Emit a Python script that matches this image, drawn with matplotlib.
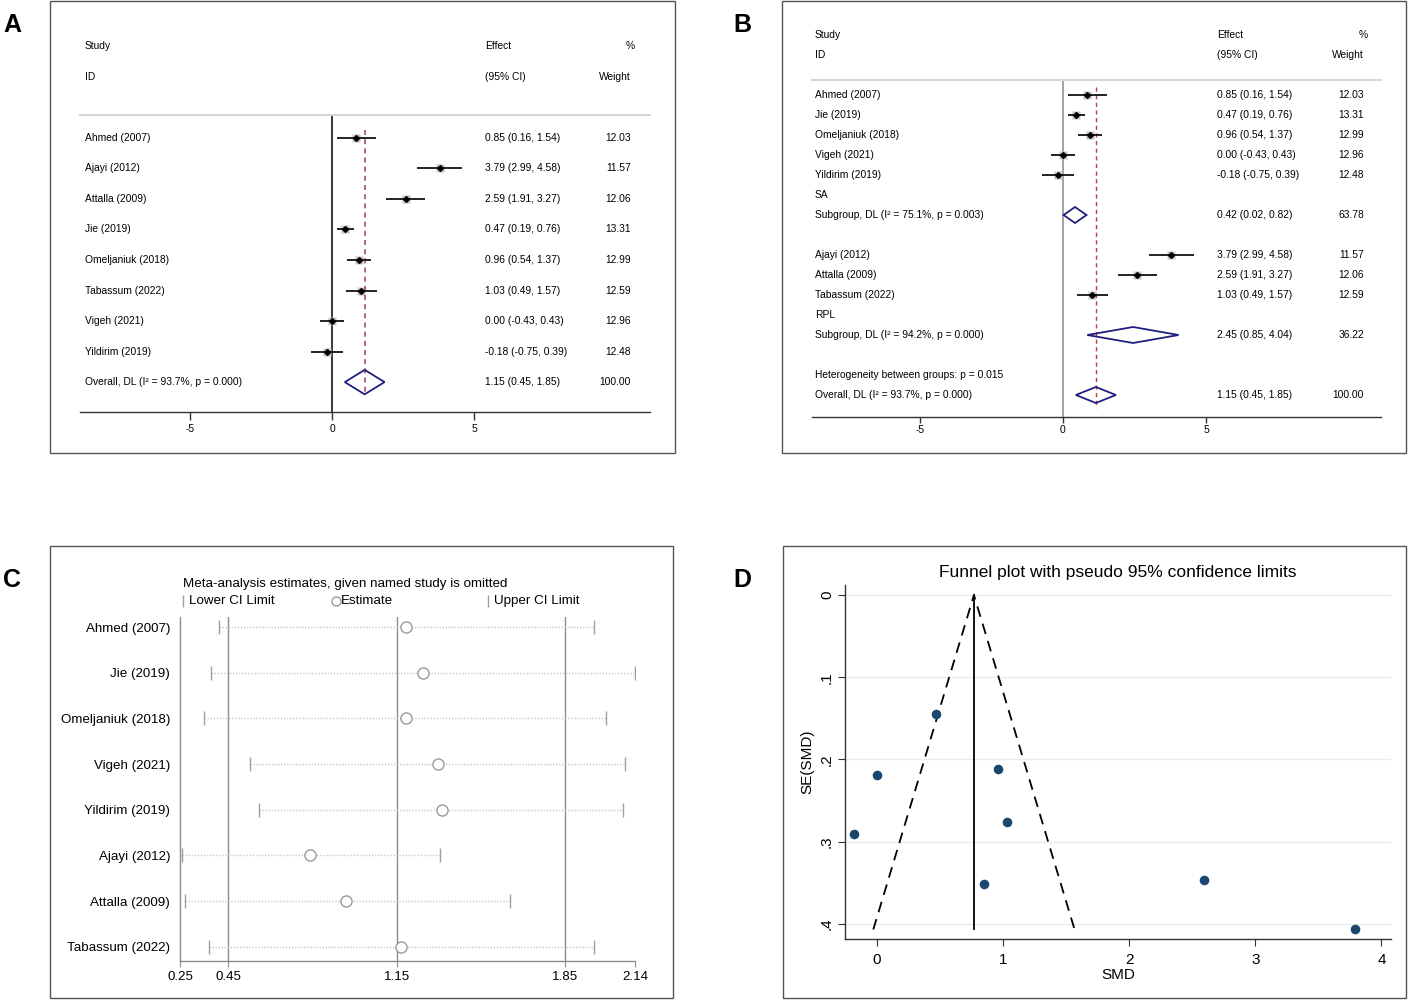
import matplotlib
matplotlib.use('Agg')
import matplotlib.pyplot as plt
from matplotlib.patches import Rectangle, Polygon
from matplotlib.lines import Line2D
import matplotlib.transforms as mtransforms
import numpy as np

plt.rcParams['font.family'] = ['Liberation Sans', 'DejaVu Sans']

W, H = 1408, 1001

# ---------------- Data ----------------
# Panel A: overall forest plot
studies_A = ["Ahmed (2007)", "Ajayi (2012)", "Attalla (2009)", "Jie (2019)",
             "Omeljaniuk (2018)", "Tabassum (2022)", "Vigeh (2021)", "Yildirim (2019)"]
smd_A = [0.85, 3.79, 2.59, 0.47, 0.96, 1.03, 0.00, -0.18]
lo_A = [0.16, 2.99, 1.91, 0.19, 0.54, 0.49, -0.43, -0.75]
hi_A = [1.54, 4.58, 3.27, 0.76, 1.37, 1.57, 0.43, 0.39]
wt_A = [12.03, 11.57, 12.06, 13.31, 12.99, 12.59, 12.96, 12.48]
overall_est, overall_lo, overall_hi, overall_wt = 1.15, 0.45, 1.85, 100.00
overall_label = "Overall, DL (I\u00b2 = 93.7%, p = 0.000)"

# Panel B: subgroup forest plot
sa_studies = ["Ahmed (2007)", "Jie (2019)", "Omeljaniuk (2018)", "Vigeh (2021)", "Yildirim (2019)"]
sa_smd = [0.85, 0.47, 0.96, 0.00, -0.18]
sa_lo = [0.16, 0.19, 0.54, -0.43, -0.75]
sa_hi = [1.54, 0.76, 1.37, 0.43, 0.39]
sa_wt = [12.03, 13.31, 12.99, 12.96, 12.48]
sa_sub_est, sa_sub_lo, sa_sub_hi, sa_sub_wt = 0.42, 0.02, 0.82, 63.78
sa_sub_label = "Subgroup, DL (I\u00b2 = 75.1%, p = 0.003)"

rpl_studies = ["Ajayi (2012)", "Attalla (2009)", "Tabassum (2022)"]
rpl_smd = [3.79, 2.59, 1.03]
rpl_lo = [2.99, 1.91, 0.49]
rpl_hi = [4.58, 3.27, 1.57]
rpl_wt = [11.57, 12.06, 12.59]
rpl_sub_est, rpl_sub_lo, rpl_sub_hi, rpl_sub_wt = 2.45, 0.85, 4.04, 36.22
rpl_sub_label = "Subgroup, DL (I\u00b2 = 94.2%, p = 0.000)"
het_label = "Heterogeneity between groups: p = 0.015"

# Panel C: leave-one-out sensitivity
loo_studies = ["Ahmed (2007)", "Jie (2019)", "Omeljaniuk (2018)", "Vigeh (2021)",
               "Yildirim (2019)", "Ajayi (2012)", "Attalla (2009)", "Tabassum (2022)"]
loo_est = [1.19, 1.26, 1.19, 1.32, 1.34, 0.79, 0.94, 1.17]
loo_lo = [0.41, 0.38, 0.35, 0.54, 0.58, 0.26, 0.27, 0.37]
loo_hi = [1.97, 2.14, 2.02, 2.10, 2.09, 1.33, 1.62, 1.97]
c_ticks = [0.25, 0.45, 1.15, 1.85, 2.14]
c_ticklabels = ["0.25", "0.45", "1.15", "1.85", "2.14"]
c_reflines = [0.45, 1.15, 1.85]

# Panel D: funnel plot
funnel_smd = [0.85, 3.79, 2.59, 0.47, 0.96, 1.03, 0.00, -0.18]
funnel_se = [0.352, 0.406, 0.347, 0.145, 0.212, 0.276, 0.219, 0.291]
pooled_fixed = 0.77
se_max = 0.407
d_yticks = [0, 0.1, 0.2, 0.3, 0.4]
d_yticklabels = ["0", ".1", ".2", ".3", ".4"]
d_xticks = [0, 1, 2, 3, 4]

# ---------------- Helpers ----------------
def fig_rect(x0, y0, x1, y1):
    return [x0 / W, 1 - y1 / H, (x1 - x0) / W, (y1 - y0) / H]

fig = plt.figure(figsize=(W / 100, H / 100), dpi=100)

def panel_frame(x0, y0, x1, y1):
    fig.add_artist(Rectangle((x0 / W, 1 - y1 / H), (x1 - x0) / W, (y1 - y0) / H,
                             transform=fig.transFigure, fill=False,
                             edgecolor='#555555', lw=1.0))

for (x0, y0, x1, y1) in [(50, 1, 675, 453), (782, 1, 1406, 453),
                         (50, 546, 673, 998), (783, 546, 1406, 998)]:
    panel_frame(x0, y0, x1, y1)

for lab, x, y in [("A", 12, 25), ("B", 742, 25), ("C", 12, 580), ("D", 742, 580)]:
    fig.text(x / W, 1 - y / H, lab, fontsize=18, fontweight='bold', ha='center', va='center')

FS = 7.4
DIAM = '#1f1f80'

def draw_study(ax, row, est, lo, hi, w):
    ax.plot(est, row, marker='s', ms=5.5 * np.sqrt(w / 12.5), color='#c4c4c4', mec='none', zorder=2)
    ax.plot([lo, hi], [row, row], color='#111111', lw=1.3, solid_capstyle='butt', zorder=3)
    ax.plot(est, row, marker='D', ms=3, color='black', zorder=4)

def draw_diamond(ax, row, est, lo, hi):
    ax.add_patch(Polygon([[lo, row], [est, row - 0.4], [hi, row], [est, row + 0.4]],
                         closed=True, fill=False, edgecolor=DIAM, lw=1.3, zorder=4))

def fmt_ci(e, l, h):
    return f"{e:.2f} ({l:.2f}, {h:.2f})"

def style_forest(ax, zero_color, tlen, tpad):
    for s in ['left', 'right']:
        ax.spines[s].set_visible(False)
    ax.spines['top'].set_color('#d6d6d6')
    ax.spines['top'].set_linewidth(1.5)
    ax.spines['bottom'].set_color('#333333')
    ax.spines['bottom'].set_linewidth(1.0)
    ax.set_yticks([])
    ax.set_xticks([-5, 0, 5])
    ax.set_xticklabels(["-5", "0", "5"])
    ax.tick_params(axis='x', direction='out', length=tlen, width=1, color='#333333',
                   labelsize=FS, pad=tpad)
    ax.axvline(0, color=zero_color, lw=1.1, zorder=1)

# ---------------- Panel A ----------------
axA = fig.add_axes(fig_rect(80, 115, 650, 412))
axA.set_xlim((80 - 332) / 28.4, (650 - 332) / 28.4)
axA.set_ylim(8.98, -0.75)
style_forest(axA, 'black', 6, 3)
tA = mtransforms.blended_transform_factory(axA.transAxes, axA.transData)
xs, xe, xw = 0.0088, 0.7105, 0.9667
axA.text(xs, -3, "Study", transform=tA, fontsize=FS, va='center')
axA.text(xs, -2, "ID", transform=tA, fontsize=FS, va='center')
axA.text(xe, -3, "Effect", transform=tA, fontsize=FS, va='center')
axA.text(xe, -2, "(95% CI)", transform=tA, fontsize=FS, va='center')
axA.text(0.974, -3, "%", transform=tA, fontsize=FS, va='center', ha='right')
axA.text(xw, -2, "Weight", transform=tA, fontsize=FS, va='center', ha='right')
for i, (s, e, l, h, w) in enumerate(zip(studies_A, smd_A, lo_A, hi_A, wt_A)):
    draw_study(axA, i, e, l, h, w)
    axA.text(xs, i, s, transform=tA, fontsize=FS, va='center')
    axA.text(xe, i, fmt_ci(e, l, h), transform=tA, fontsize=FS, va='center')
    axA.text(xw, i, f"{w:.2f}", transform=tA, fontsize=FS, va='center', ha='right')
rA = len(studies_A)
draw_diamond(axA, rA, overall_est, overall_lo, overall_hi)
axA.text(xs, rA, overall_label, transform=tA, fontsize=FS, va='center')
axA.text(xe, rA, fmt_ci(overall_est, overall_lo, overall_hi), transform=tA, fontsize=FS, va='center')
axA.text(xw, rA, f"{overall_wt:.2f}", transform=tA, fontsize=FS, va='center', ha='right')
axA.plot([overall_est, overall_est], [-0.26, 8.43], color='#a8505a', lw=1.2,
         ls=(0, (3, 2.5)), zorder=2)

# ---------------- Panel B ----------------
axB = fig.add_axes(fig_rect(812, 80, 1381, 417))
axB.set_xlim((812 - 1063) / 28.6, (1381 - 1063) / 28.6)
axB.set_ylim(16.1, -0.75)
style_forest(axB, '#8a8a8a', 4, 1.5)
tB = mtransforms.blended_transform_factory(axB.transAxes, axB.transData)
bs, be, bw = 0.0053, 0.7118, 0.970
axB.text(bs, -3, "Study", transform=tB, fontsize=FS, va='center')
axB.text(bs, -2, "ID", transform=tB, fontsize=FS, va='center')
axB.text(be, -3, "Effect", transform=tB, fontsize=FS, va='center')
axB.text(be, -2, "(95% CI)", transform=tB, fontsize=FS, va='center')
axB.text(0.977, -3, "%", transform=tB, fontsize=FS, va='center', ha='right')
axB.text(bw, -2, "Weight", transform=tB, fontsize=FS, va='center', ha='right')

row = 0
for s, e, l, h, w in zip(sa_studies, sa_smd, sa_lo, sa_hi, sa_wt):
    draw_study(axB, row, e, l, h, w)
    axB.text(bs, row, s, transform=tB, fontsize=FS, va='center')
    axB.text(be, row, fmt_ci(e, l, h), transform=tB, fontsize=FS, va='center')
    axB.text(bw, row, f"{w:.2f}", transform=tB, fontsize=FS, va='center', ha='right')
    row += 1
axB.text(bs, row, "SA", transform=tB, fontsize=FS, va='center')
row += 1
draw_diamond(axB, row, sa_sub_est, sa_sub_lo, sa_sub_hi)
axB.text(bs, row, sa_sub_label, transform=tB, fontsize=FS, va='center')
axB.text(be, row, fmt_ci(sa_sub_est, sa_sub_lo, sa_sub_hi), transform=tB, fontsize=FS, va='center')
axB.text(bw, row, f"{sa_sub_wt:.2f}", transform=tB, fontsize=FS, va='center', ha='right')
row += 2
for s, e, l, h, w in zip(rpl_studies, rpl_smd, rpl_lo, rpl_hi, rpl_wt):
    draw_study(axB, row, e, l, h, w)
    axB.text(bs, row, s, transform=tB, fontsize=FS, va='center')
    axB.text(be, row, fmt_ci(e, l, h), transform=tB, fontsize=FS, va='center')
    axB.text(bw, row, f"{w:.2f}", transform=tB, fontsize=FS, va='center', ha='right')
    row += 1
axB.text(bs, row, "RPL", transform=tB, fontsize=FS, va='center')
row += 1
draw_diamond(axB, row, rpl_sub_est, rpl_sub_lo, rpl_sub_hi)
axB.text(bs, row, rpl_sub_label, transform=tB, fontsize=FS, va='center')
axB.text(be, row, fmt_ci(rpl_sub_est, rpl_sub_lo, rpl_sub_hi), transform=tB, fontsize=FS, va='center')
axB.text(bw, row, f"{rpl_sub_wt:.2f}", transform=tB, fontsize=FS, va='center', ha='right')
row += 2
axB.text(bs, row, het_label, transform=tB, fontsize=FS, va='center')
row += 1
draw_diamond(axB, row, overall_est, overall_lo, overall_hi)
axB.text(bs, row, overall_label, transform=tB, fontsize=FS, va='center')
axB.text(be, row, fmt_ci(overall_est, overall_lo, overall_hi), transform=tB, fontsize=FS, va='center')
axB.text(bw, row, f"{overall_wt:.2f}", transform=tB, fontsize=FS, va='center', ha='right')
axB.plot([overall_est, overall_est], [-0.4, 15.65], color='#c03a3a', lw=1.0,
         ls=(0, (3, 2.5)), zorder=2)

# ---------------- Panel C ----------------
axC = fig.add_axes(fig_rect(180, 617, 635, 961))
axC.set_xlim(0.25, 2.14)
axC.set_ylim(7.31, -0.22)
for s in ['top', 'right']:
    axC.spines[s].set_visible(False)
for s in ['left', 'bottom']:
    axC.spines[s].set_color('#8c8c8c')
    axC.spines[s].set_linewidth(1.0)
for v in c_reflines:
    axC.axvline(v, color='#8c8c8c', lw=1.0, zorder=1)
rows_C = np.arange(len(loo_studies))
for r, e, l, h in zip(rows_C, loo_est, loo_lo, loo_hi):
    axC.plot([l, h], [r, r], color='#c8c8c8', lw=1.0, ls=(0, (1, 1.2)), zorder=2)
    axC.plot([l, h], [r, r], ls='none', marker='|', ms=10, mew=1.0, color='#a0a0a0', zorder=3)
    axC.plot(e, r, marker='o', ms=8, mfc='white', mec='#9a9a9a', mew=1.0, zorder=4)
axC.set_yticks(rows_C)
axC.set_yticklabels(loo_studies, fontsize=9.6)
axC.tick_params(axis='y', length=0, pad=7)
axC.set_xticks(c_ticks)
axC.set_xticklabels(c_ticklabels, fontsize=9.6)
axC.tick_params(axis='x', length=4, color='#8c8c8c', pad=3)
fig.text(183 / W, 1 - 584 / H, "Meta-analysis estimates, given named study is omitted",
         fontsize=9.6, va='center', ha='left')
leg_y = 1 - 601 / H
for mx, mk, tx, lab in [(183, '|', 189, "Lower CI Limit"), (336, 'o', 341, "Estimate"),
                        (488, '|', 494, "Upper CI Limit")]:
    if mk == '|':
        fig.add_artist(Line2D([mx / W], [leg_y], marker='|', ms=9, mew=1.0, color='#a0a0a0',
                              ls='none', transform=fig.transFigure))
    else:
        fig.add_artist(Line2D([mx / W], [leg_y], marker='o', ms=6.5, mfc='white', mec='#9a9a9a',
                              mew=1.0, ls='none', transform=fig.transFigure))
    fig.text(tx / W, leg_y, lab, fontsize=9.6, va='center', ha='left')

# ---------------- Panel D ----------------
axD = fig.add_axes(fig_rect(845, 585, 1391, 939))
axD.set_xlim(-0.252, 4.076)
axD.set_ylim(0.4186, -0.0122)
for s in ['top', 'right']:
    axD.spines[s].set_visible(False)
for s in ['left', 'bottom']:
    axD.spines[s].set_color('#333333')
    axD.spines[s].set_linewidth(1.0)
for v in d_yticks:
    axD.axhline(v, color='#e4eef0', lw=1.0, zorder=0)
axD.plot([pooled_fixed - 1.96 * se_max, pooled_fixed, pooled_fixed + 1.96 * se_max],
         [se_max, 0, se_max], color='black', lw=1.3, ls=(0, (6, 4)), zorder=2)
axD.plot([pooled_fixed, pooled_fixed], [0, se_max], color='black', lw=1.3, zorder=2)
axD.scatter(funnel_smd, funnel_se, s=48, color='#1a476f', zorder=3, linewidths=0)
axD.set_xticks(d_xticks)
axD.set_xticklabels([str(v) for v in d_xticks], fontsize=11)
axD.set_yticks(d_yticks)
axD.set_yticklabels(d_yticklabels, fontsize=11, rotation=90, va='center')
axD.tick_params(axis='x', length=5, color='#333333', pad=5)
axD.tick_params(axis='y', length=5, color='#333333', pad=3)
axD.set_xlabel("SMD", fontsize=11, labelpad=1)
axD.set_ylabel("SE(SMD)", fontsize=11, labelpad=4)
fig.text(1118 / W, 1 - 573 / H, "Funnel plot with pseudo 95% confidence limits",
         fontsize=12.5, ha='center', va='center')

fig.savefig("out.png", dpi=100)
